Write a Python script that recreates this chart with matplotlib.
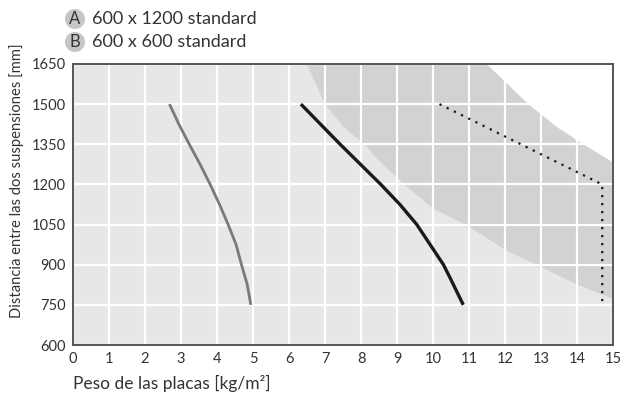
import matplotlib
matplotlib.use("Agg")
import matplotlib.pyplot as plt
from matplotlib.patches import Circle

plt.rcParams['font.family'] = ['Lato', 'DejaVu Sans']

# gray curve (600 x 600) and black curve (600 x 1200)
gray_x = [2.68, 2.94, 3.23, 3.53, 3.81, 4.07, 4.31, 4.53, 4.68, 4.84, 4.94]
gray_y = [1500, 1425, 1350, 1275, 1200, 1125, 1050, 975, 900, 825, 750]
black_x = [6.33, 7.42, 8.55, 9.08, 9.55, 10.29, 10.47, 10.84]
black_y = [1500, 1350, 1200, 1125, 1050, 900, 852, 750]
dot_x = [10.18, 14.7, 14.7]
dot_y = [1500, 1200, 750]

# shaded band boundaries
low_x = [6.49, 7.0, 7.51, 8.1, 8.48, 9.2, 10.0, 10.9, 12.05, 12.88, 13.94, 15.0]
low_y = [1650, 1500, 1415, 1350, 1290, 1200, 1110, 1050, 952, 900, 829, 772]
up_x = [11.49, 12.05, 12.65, 13.44, 14.18, 15.0]
up_y = [1650, 1578, 1500, 1415, 1350, 1283]

xticks = list(range(0, 16))
yticks = [600, 750, 900, 1050, 1200, 1350, 1500, 1650]
legend_items = [("A", "600 x 1200 standard"), ("B", "600 x 600 standard")]

fig = plt.figure(figsize=(6.23, 3.99), dpi=100)
ax = fig.add_axes([0.1172, 0.1353, 0.8668, 0.7043])
ax.set_xlim(0, 15)
ax.set_ylim(600, 1650)
ax.set_facecolor('#e6e7e7')

# dark band
px = low_x + [15, 15] + up_x[::-1][1:]
py = low_y + [low_y[-1], up_y[-1]] + up_y[::-1][1:]
ax.fill(px, py, color='#d1d2d4', lw=0, zorder=1)
# white area above
wx = up_x + [15]
wy = up_y + [1650]
ax.fill(wx, wy, color='white', lw=0, zorder=1)

ax.set_xticks(xticks)
ax.set_yticks(yticks)
ax.grid(True, color='white', lw=1.6, zorder=2)
ax.set_axisbelow(False)
for gl in ax.get_xgridlines() + ax.get_ygridlines():
    gl.set_zorder(2)

ax.plot(gray_x, gray_y, color='#7a7a7a', lw=2.0, zorder=3, solid_capstyle='butt')
ax.plot(black_x, black_y, color='#1a1a1a', lw=2.4, zorder=3, solid_capstyle='butt')
ax.plot(dot_x, dot_y, color='#1a1a1a', lw=1.6, ls=(0, (1, 2.6)), zorder=3)

for s in ax.spines.values():
    s.set_color('#555555')
    s.set_linewidth(1.4)
    s.set_zorder(4)

ax.tick_params(length=0, labelsize=10.5, colors='#333333', pad=5)
ax.set_xlabel("Peso de las placas [kg/m²]", fontsize=12.5, color='#333333',
              loc='left')
ax.xaxis.set_label_coords(0.0, -0.105)
ax.set_ylabel("Distancia entre las dos suspensiones [mm]", fontsize=10.6,
              color='#333333')
ax.yaxis.set_label_coords(-0.09, 0.585)

for i, (letter, txt) in enumerate(legend_items):
    yy = 1 - (19 + 23 * i) / 399
    xx = 75 / 623
    circ = Circle((xx * 6.23, yy * 3.99), 0.1, transform=fig.dpi_scale_trans,
                  color='#c6c6c6', lw=0)
    fig.patches.append(circ)
    fig.text(xx, yy, letter, ha='center', va='center', fontsize=12,
             color='#333333')
    fig.text(92 / 623, yy, txt, ha='left', va='center', fontsize=13,
             color='#333333')

fig.savefig("out.png", dpi=100)
